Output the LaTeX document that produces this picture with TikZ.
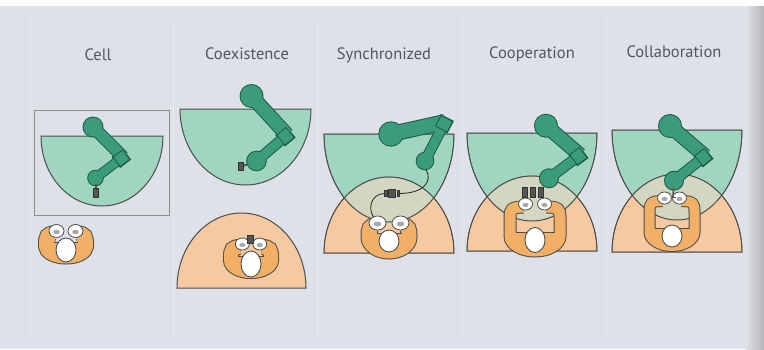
\documentclass[tikz,border=0pt]{standalone}
\usepackage{fontspec}
\setmainfont{PT Sans}
\usetikzlibrary{calc}

\definecolor{paper}{HTML}{DFE1E8}
\definecolor{paperedge}{HTML}{B4B4B8}
\definecolor{zonegreen}{HTML}{A0D5BF}
\definecolor{zoneorange}{HTML}{F6C9A0}
\definecolor{zoneshared}{HTML}{D3D6C0}
\definecolor{armgreen}{HTML}{3A9C7A}
\definecolor{armdark}{HTML}{1F5A47}
\definecolor{bodyorange}{HTML}{F1B066}
\definecolor{inkgrey}{HTML}{4D4D4D}
\definecolor{labelgrey}{HTML}{55555C}
\definecolor{toolgrey}{HTML}{555555}
\definecolor{handshade}{HTML}{A8A8A8}
\definecolor{framegrey}{HTML}{8C8C8C}

\tikzset{
  panelttl/.style={font=\fontsize{16.5}{18}\selectfont, text=labelgrey, anchor=base, inner sep=0pt},
  zoneline/.style={draw=inkgrey, line width=1pt},
  divider/.style={draw=white, opacity=0.3, line width=1pt},
  toolpart/.style={fill=toolgrey, draw=black!80, line width=0.6pt},
  cable/.style={draw=black!80, line width=0.9pt},
}

% half ellipse with a flat top edge (robot reach zone)
\newcommand\bowlpath[4]{({#1-#3},{#2}) -- ({#1+#3},{#2}) .. controls ({#1+#3},{#2+0.5523*#4}) and ({#1+0.5523*#3},{#2+#4}) .. ({#1},{#2+#4}) .. controls ({#1-0.5523*#3},{#2+#4}) and ({#1-#3},{#2+0.5523*#4}) .. ({#1-#3},{#2}) -- cycle}
% half ellipse with a flat bottom edge (worker zone)
\newcommand\domepath[4]{({#1-#3},{#2}) -- ({#1+#3},{#2}) .. controls ({#1+#3},{#2-0.5523*#4}) and ({#1+0.5523*#3},{#2-#4}) .. ({#1},{#2-#4}) .. controls ({#1-0.5523*#3},{#2-#4}) and ({#1-#3},{#2-0.5523*#4}) .. ({#1-#3},{#2}) -- cycle}

% robot arm seen from above: shoulder, elbow, wrist
\newcommand\robotarm[7]{%
  \pgfmathsetmacro\ra{#4+1}\pgfmathsetmacro\rb{#5+1}%
  \pgfmathsetmacro\wa{#6+2}\pgfmathsetmacro\wb{#7+2}\pgfmathsetmacro\wc{#7+6}%
  \pgfmathsetmacro\hb{(#7+4)/2}%
  \coordinate (rbA) at ($(#2)!-4pt!(#3)$);
  \coordinate (rbB) at ($(#2)!8pt!(#3)$);
  \draw[armdark, line width=\wa pt] (#1) -- (#2);
  \draw[armdark, line width=\wb pt] (#2) -- (#3);
  \draw[armdark, line width=\wc pt] ($(#2)!-5pt!(#3)$) -- ($(#2)!9pt!(#3)$);
  \fill[armdark] (#1) circle[radius=\ra];
  \fill[armdark] (#3) circle[radius=\rb];
  \draw[armgreen, line width=#6pt] (#1) -- (#2);
  \draw[armgreen, line width=#7pt] (#2) -- (#3);
  \fill[armgreen] (#1) circle[radius=#4];
  \fill[armgreen] (#3) circle[radius=#5];
  \filldraw[fill=armgreen, draw=armdark, line width=0.8pt]
    ($(rbA)!\hb pt!90:(rbB)$) -- ($(rbB)!\hb pt!-90:(rbA)$) --
    ($(rbB)!\hb pt!90:(rbA)$) -- ($(rbA)!\hb pt!-90:(rbB)$) -- cycle;
}

% one hand
\def\handrx{7}\def\handry{6}
\newcommand\hand[2]{%
  \filldraw[fill=white, draw=inkgrey, line width=0.8pt] ({#1},{#2}) ellipse[x radius=\handrx, y radius=\handry];
  \fill[handshade] ({#1},{#2+1}) ellipse[x radius=0.45*\handrx, y radius=0.35*\handry];
}

% worker seen from above
% #1 centre x, #2 head y, #3 arm offset, #4 hand y, #5 hand offset,
% #6 arm width, #7 hip offset, #8 head y radius
\newcommand\person[8]{%
  \pgfmathsetmacro\edgew{#6+2}%
  \def\hips{({#1-#3},{#2-4}) .. controls ({#1-#3},{#2-4+0.55*(#7+4)}) and ({#1-0.55*#3},{#2+#7}) .. ({#1},{#2+#7}) .. controls ({#1+0.55*#3},{#2+#7}) and ({#1+#3},{#2-4+0.55*(#7+4)}) .. ({#1+#3},{#2-4})}%
  \def\upath{({#1-#5-2},{#4+3}) .. controls ({#1-#3+1},{#4+3}) and ({#1-#3},{#4+6}) .. ({#1-#3},{#4+13}) -- \hips -- ({#1+#3},{#4+13}) .. controls ({#1+#3},{#4+6}) and ({#1+#3-1},{#4+3}) .. ({#1+#5+2},{#4+3})}%
  \draw[draw=inkgrey, line width=\edgew pt] \upath;
  \fill[bodyorange] ({#1-#3},{#2-8}) -- \hips -- ({#1+#3},{#2-8}) -- cycle;
  \draw[draw=bodyorange, line width=#6pt] \upath;
  \draw[inkgrey, line width=0.8pt] ({#1-#3+#6/2},{#2-8}) -- ({#1+#3-#6/2},{#2-8});
  \filldraw[fill=white, draw=inkgrey, line width=0.9pt] ({#1},{#2}) ellipse[x radius=10, y radius=#8];
  \hand{#1-#5}{#4}\hand{#1+#5}{#4}%
}

\begin{document}
\begin{tikzpicture}[x=1pt, y=-1pt]
\useasboundingbox (0,0) rectangle (764,349);

% paper
\fill[paper] (0,0) rectangle (764,349);
\shade[left color=paper, right color=paperedge] (746,0) rectangle (764,349);
\fill[white] (0,0) rectangle (764,6);
\foreach \dx in {30,173,317,462,606} \draw[divider] (\dx,18) -- (\dx,336);

% titles
\node[panelttl] (tcell)   at (98,60)  {Cell};
\node[panelttl] (tcoex)   at (247,59) {Coexistence};
\node[panelttl] (tsync)   at (384,59) {Synchronized};
\node[panelttl] (tcoop)   at (532,58) {Cooperation};
\node[panelttl] (tcollab) at (674,57) {Collaboration};

% ---------------- Cell ----------------
\draw[framegrey, line width=1pt] (34,110) rectangle (169,215);
\filldraw[fill=zonegreen, zoneline] \bowlpath{102}{136}{61}{70};
\coordinate (aS) at (93,127);
\coordinate (aE) at (123,157);
\coordinate (aW) at (95.5,178);
\robotarm{aS}{aE}{aW}{9.5}{7.3}{11}{8}
\draw[toolgrey, line width=2pt] (95.5,184) -- (95.5,189);
\filldraw[toolpart] (93,188) rectangle (98.5,197);
\def\handrx{7.5}\def\handry{6.5}
\person{66}{250}{19.5}{231}{9.5}{15}{6}{12}

% ---------------- Coexistence ----------------
\filldraw[fill=zonegreen, zoneline] \bowlpath{245.5}{109}{65.5}{76};
\filldraw[fill=zoneorange, zoneline] \domepath{241.5}{288}{64.5}{75};
\coordinate (bS) at (251.5,96);
\coordinate (bE) at (287,135);
\coordinate (bW) at (256.5,161);
\robotarm{bS}{bE}{bW}{11}{9.3}{13}{9}
\draw[toolgrey, line width=2pt] (248,164) -- (243,166);
\filldraw[toolpart] (238,162.5) rectangle (243.5,170);
\def\handrx{7}\def\handry{6}
\person{251}{264}{20}{244}{8.7}{14}{7}{13}
\filldraw[toolpart] (247.5,235) rectangle (253,243);

% ---------------- Synchronized ----------------
\filldraw[fill=zonegreen] \bowlpath{389}{134}{65}{88};
\filldraw[fill=zoneorange] \domepath{389}{253}{65}{76};
\begin{scope}
  \clip \bowlpath{389}{134}{65}{88};
  \fill[zoneshared] \domepath{389}{253}{65}{76};
\end{scope}
\draw[zoneline] \bowlpath{389}{134}{65}{88};
\draw[zoneline] \domepath{389}{253}{65}{76};
\coordinate (cS) at (391,134);
\coordinate (cE) at (445,122);
\coordinate (cW) at (425,161);
\robotarm{cS}{cE}{cW}{11.7}{8.3}{14}{9}
\coordinate (cPlugR) at (399,193.5);
\coordinate (cPlugL) at (384.5,193.5);
\coordinate (cHand) at (377,221);
\draw[cable] (426,169.5) .. controls (433,181) and (424,193.5) .. (cPlugR);
\draw[cable] (cPlugL) .. controls (370,193.5) and (366,212) .. (cHand);
\filldraw[toolpart] (384.5,190.5) rectangle (386.8,196.5);
\filldraw[toolpart] (388.5,189.5) rectangle (395,197.5);
\filldraw[toolpart] (396.8,190.5) rectangle (399,196.5);
\def\handrx{8.5}\def\handry{7}
\person{389}{241}{20}{223}{11.5}{15}{10}{11}

% ---------------- Cooperation ----------------
\filldraw[fill=zonegreen] \bowlpath{532}{133}{65}{88};
\filldraw[fill=zoneorange] \domepath{532}{251}{65}{75};
\begin{scope}
  \clip \bowlpath{532}{133}{65}{88};
  \fill[zoneshared] \domepath{532}{251}{65}{75};
\end{scope}
\draw[zoneline] \bowlpath{532}{133}{65}{88};
\draw[zoneline] \domepath{532}{251}{65}{75};
\coordinate (dS) at (546,125.7);
\coordinate (dE) at (580,155);
\coordinate (dW) at (549,178.3);
\robotarm{dS}{dE}{dW}{11}{9}{13}{9}
\filldraw[toolpart] (522,187) rectangle (527,197);
\filldraw[toolpart] (530,187) rectangle (535,197);
\filldraw[toolpart] (538,187) rectangle (543,197);
\def\handrx{7}\def\handry{6}
\person{535}{240}{25}{204}{9.5}{11}{11}{12.5}

% ---------------- Collaboration ----------------
\filldraw[fill=zonegreen] \bowlpath{677}{130}{65}{90};
\filldraw[fill=zoneorange] \domepath{677}{252}{65}{78};
\begin{scope}
  \clip \bowlpath{677}{130}{65}{90};
  \fill[zoneshared] \domepath{677}{252}{65}{78};
\end{scope}
\draw[zoneline] \bowlpath{677}{130}{65}{90};
\draw[zoneline] \domepath{677}{252}{65}{78};
\coordinate (eS) at (670,126);
\coordinate (eE) at (705,156);
\coordinate (eW) at (674,180.7);
\robotarm{eS}{eE}{eW}{11}{9}{13}{9}
\def\handrx{7}\def\handry{6}
\person{672}{236}{22.5}{198}{7.5}{10}{10}{11}
\draw[toolgrey, line width=1.6pt] (673.5,188) -- (673,197);
\draw[toolgrey, line width=1pt] (670.5,197) -- (675.5,197);
\end{tikzpicture}
\end{document}
